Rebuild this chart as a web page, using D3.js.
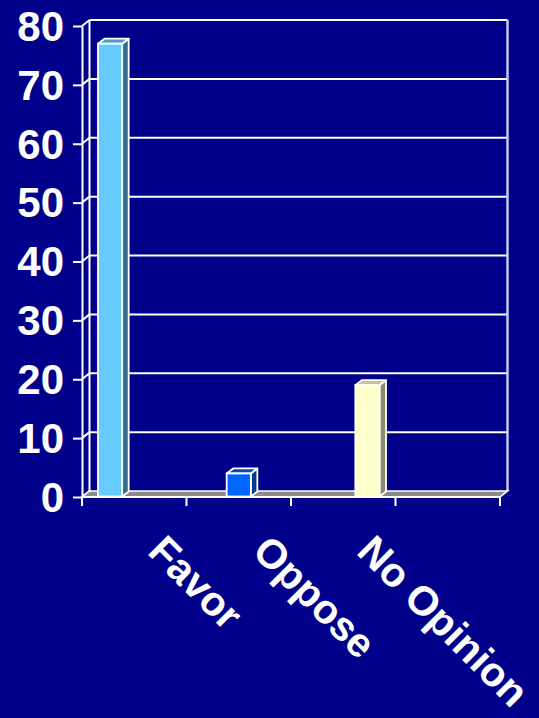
<!DOCTYPE html>
<html>
<head>
<meta charset="utf-8">
<script src="https://cdn.jsdelivr.net/npm/d3@7"></script>
<style>
  html, body { margin: 0; padding: 0; background: #00008B; }
  svg { display: block; }
</style>
</head>
<body>
<script>
// ---- data ----
const categories = ["Favor", "Oppose", "No Opinion"];
const values = [77, 4, 19];
const slots = ["Favor", "Oppose", "No Opinion", ""]; // axis has a 4th empty slot
const yTicks = [0, 10, 20, 30, 40, 50, 60, 70, 80];
const frontColors = ["#66CCFF", "#0066FF", "#FFFFCC"];
const topColors = ["#4F9CC6", "#0049B8", "#C4C49C"];
const sideColors = ["#356C8C", "#003C8C", "#8A8A6C"];

const W = 539, H = 718;
const bg = "#00008B";
const font = "'Liberation Sans', Arial, sans-serif";

const svg = d3.select("body").append("svg")
  .attr("width", W).attr("height", H)
  .style("background", bg);

// scales
const x = d3.scaleBand().domain(slots).range([82, 500]).paddingInner(0).paddingOuter(0);
const inner = d3.scaleBand().domain(d3.range(categories.length))
  .range([0, x.bandwidth()]).paddingInner(0).paddingOuter(0.66);
const y = d3.scaleLinear().domain([0, 80]).range([497, 26]);

// depth offsets
const dx = 7.5, dy = -6;     // wall depth
const bdx = 6.5, bdy = -5;   // bar depth

const x0 = x.range()[0], x1 = x.range()[1];
const line = d3.line();

// back wall gridlines
const gWall = svg.append("g").attr("stroke", "#fff").attr("stroke-width", 2).attr("fill", "none");
gWall.selectAll("line.grid").data(yTicks.filter(d => d > 0)).join("line")
  .attr("x1", x0 + dx).attr("x2", x1 + dx)
  .attr("y1", d => y(d) + dy).attr("y2", d => y(d) + dy);
// back wall left and right edges
gWall.append("line").attr("x1", x0 + dx).attr("x2", x0 + dx).attr("y1", y(80) + dy).attr("y2", y(0) + dy);
gWall.append("line").attr("x1", x1 + dx).attr("x2", x1 + dx).attr("y1", y(80) + dy).attr("y2", y(0) + dy)
  .attr("stroke", "#C8C8F0").attr("stroke-width", 2.5);
// left wall diagonals
gWall.selectAll("line.diag").data(yTicks).join("line")
  .attr("x1", x0).attr("x2", x0 + dx)
  .attr("y1", d => y(d)).attr("y2", d => y(d) + dy);

// floor
svg.append("path")
  .attr("d", line([[x0, y(0)], [x1, y(0)], [x1 + dx, y(0) + dy], [x0 + dx, y(0) + dy]]) + "Z")
  .attr("fill", "#8C8C8C").attr("stroke", "#fff").attr("stroke-width", 1.6);

// bars
const bars = svg.append("g").selectAll("g").data(categories).join("g");
bars.each(function (c, i) {
  const g = d3.select(this);
  const bx = x(slots[i]) + inner(i);
  const bw = inner.bandwidth();
  const yt = y(values[i]), yb = y(0) - 0.5;
  g.append("path")
    .attr("d", line([[bx + bw, yt], [bx + bw + bdx, yt + bdy], [bx + bw + bdx, yb + bdy], [bx + bw, yb]]) + "Z")
    .attr("fill", sideColors[i]).attr("stroke", "#fff").attr("stroke-width", 1.8).attr("stroke-linejoin", "round");
  g.append("path")
    .attr("d", line([[bx, yt], [bx + bw, yt], [bx + bw + bdx, yt + bdy], [bx + bdx, yt + bdy]]) + "Z")
    .attr("fill", topColors[i]).attr("stroke", "#fff").attr("stroke-width", 1.8).attr("stroke-linejoin", "round");
  g.append("rect")
    .attr("x", bx).attr("y", yt).attr("width", bw).attr("height", yb - yt)
    .attr("fill", frontColors[i]).attr("stroke", "#fff").attr("stroke-width", 1.8);
});

// y axis
const yAxis = d3.axisLeft(y).tickValues(yTicks).tickSize(9).tickSizeOuter(0).tickPadding(9);
const gy = svg.append("g").attr("transform", `translate(${x0},0)`).call(yAxis);
gy.select(".domain").attr("stroke", "#fff").attr("stroke-width", 2);
gy.selectAll(".tick line").attr("stroke", "#fff").attr("stroke-width", 2);
gy.selectAll(".tick text")
  .attr("fill", "#fff").style("font-family", font).style("font-weight", "bold").style("font-size", "42px")
  .attr("dy", "0.34em");

// x axis baseline and ticks at band boundaries
const gx = svg.append("g").attr("stroke", "#fff").attr("stroke-width", 2);
gx.append("line").attr("x1", x0).attr("x2", x1).attr("y1", y(0)).attr("y2", y(0));
const boundaries = slots.map(s => x(s)).concat([x1]);
gx.selectAll("line.tick").data(boundaries).join("line")
  .attr("x1", d => d).attr("x2", d => d).attr("y1", y(0)).attr("y2", y(0) + 9);

// x labels rotated
svg.append("g").selectAll("text").data(categories).join("text")
  .attr("transform", d => `translate(${x(d) + x.bandwidth() / 2 + 12},553) rotate(45)`)
  .attr("text-anchor", "start")
  .attr("fill", "#fff")
  .style("font-family", font).style("font-weight", "bold").style("font-size", "41px")
  .text(d => d);
</script>
</body>
</html>
